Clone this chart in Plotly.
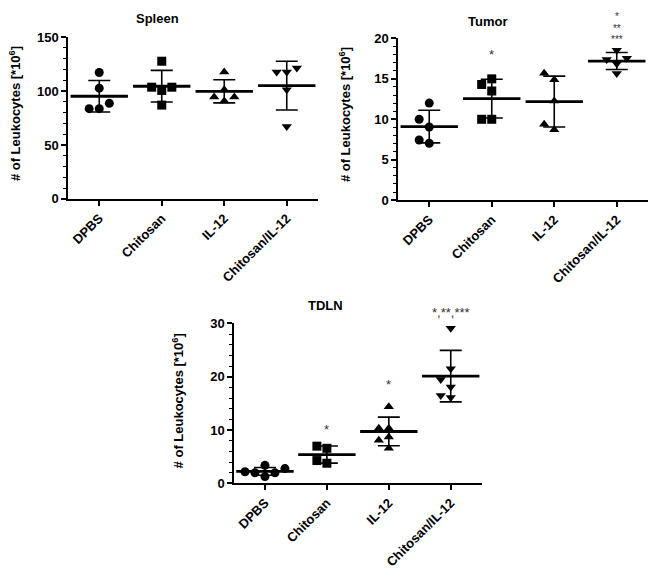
import numpy as np
import plotly.graph_objects as go

# ---------------- data ----------------
categories = ["DPBS", "Chitosan", "IL-12", "Chitosan/IL-12"]

spleen_dpbs = [117.2, 102.7, 88.6, 83.7, 83.7]
spleen_chitosan = [127.7, 103.6, 100.6, 103.6, 87.0]
spleen_il12 = [117.8, 101.2, 94.6, 94.6, 90.7]
spleen_combo = [121.4, 117.8, 117.8, 101.2, 67.2]

tumor_dpbs = [12.0, 10.0, 9.04, 7.43, 7.03]
tumor_chitosan = [15.0, 14.3, 13.5, 10.0, 10.0]
tumor_il12 = [15.7, 14.9, 12.25, 9.4, 8.7]
tumor_combo = [18.55, 17.4, 17.55, 16.87, 15.66]

tdln_dpbs = [3.4, 2.8, 2.2, 2.0, 2.0, 1.3]
tdln_chitosan = [7.0, 6.6, 4.3, 3.8]
tdln_il12 = [14.4, 10.35, 10.35, 8.7, 8.1, 6.6]
tdln_combo = [29.1, 21.5, 19.5, 18.1, 16.1, 16.5]

y_ticks_spleen = [0, 50, 100, 150]
y_ticks_tumor = [0, 5, 10, 15, 20]
y_ticks_tdln = [0, 10, 20, 30]

# significance labels: (category index, lines of text, y value of the block centre)
sig_tumor = [(1, ["*"], 18.0), (3, ["*", "**", "***"], 21.3)]
sig_tdln = [(1, ["*"], 10.2), (2, ["*"], 18.6), (3, ["*,**,***"], 32.0)]

# ---------------- styling ----------------
FONT = "Arial, Liberation Sans, sans-serif"
W, H = 654, 573
symbols = ["circle", "square", "triangle-up", "triangle-down"]
PX_PER_CAT = 62.0

panels = [
    dict(name="Spleen", groups=[spleen_dpbs, spleen_chitosan, spleen_il12, spleen_combo],
         ticks=y_ticks_spleen, minor=10, rng=[0, 150],
         xdom=[68 / W, 318 / W], ydom=[(H - 197) / H, (H - 31) / H],
         title_xy=(157, 12), ytitle_xy=(15, 110), sig=[]),
    dict(name="Tumor", groups=[tumor_dpbs, tumor_chitosan, tumor_il12, tumor_combo],
         ticks=y_ticks_tumor, minor=1, rng=[0, 20],
         xdom=[398 / W, 648 / W], ydom=[(H - 198.3) / H, (H - 32.3) / H],
         title_xy=(487, 15), ytitle_xy=(345, 110), sig=sig_tumor),
    dict(name="TDLN", groups=[tdln_dpbs, tdln_chitosan, tdln_il12, tdln_combo],
         ticks=y_ticks_tdln, minor=2, rng=[0, 30],
         xdom=[234 / W, 481.7 / W], ydom=[(H - 489.3) / H, (H - 325) / H],
         title_xy=(325, 307), ytitle_xy=(178, 405), sig=sig_tdln),
]


def swarm(vals, px_per_unit, diam=9.0, step=10.0):
    """Simple beeswarm: returns horizontal offsets in pixels."""
    order = sorted(range(len(vals)), key=lambda i: vals[i])
    placed = []
    offs = [0.0] * len(vals)
    for i in order:
        y = vals[i] * px_per_unit
        x = 0.0
        for k in [0, -1, 1, -2, 2, -3, 3]:
            x = k * step
            if all((x - px) ** 2 + (y - py) ** 2 >= diam ** 2 for px, py in placed):
                break
        placed.append((x, y))
        offs[i] = x
    return offs


fig = go.Figure()
annotations = []
layout_axes = {}

for p_i, p in enumerate(panels):
    sfx = "" if p_i == 0 else str(p_i + 1)
    xa, ya = "x" + sfx, "y" + sfx
    plot_h_px = (p["ydom"][1] - p["ydom"][0]) * H
    px_per_unit = plot_h_px / (p["rng"][1] - p["rng"][0])

    for g_i, vals in enumerate(p["groups"]):
        offs = swarm(vals, px_per_unit)
        xs = [g_i + o / PX_PER_CAT for o in offs]
        fig.add_trace(go.Scatter(
            x=xs, y=vals, mode="markers", xaxis=xa, yaxis=ya,
            marker=dict(symbol=symbols[g_i], size=9, color="black"),
            showlegend=False, cliponaxis=False))
        m = float(np.mean(vals))
        sd = float(np.std(vals, ddof=1))
        # SD whiskers
        fig.add_trace(go.Scatter(
            x=[g_i], y=[m], mode="markers", xaxis=xa, yaxis=ya,
            marker=dict(symbol="line-ew-open", size=1, color="black", line=dict(width=0)),
            error_y=dict(type="data", array=[sd], width=11, thickness=1.6, color="black"),
            showlegend=False, cliponaxis=False))
        # mean line
        fig.add_trace(go.Scatter(
            x=[g_i], y=[m], mode="markers", xaxis=xa, yaxis=ya,
            marker=dict(symbol="line-ew-open", size=41, color="black",
                        line=dict(width=2.8, color="black")),
            showlegend=False, cliponaxis=False))

    layout_axes["xaxis" + sfx] = dict(
        domain=p["xdom"], anchor=ya, range=[-0.5, 3.5],
        tickvals=list(range(len(categories))), ticktext=categories,
        tickangle=-45, ticks="outside", ticklen=5, tickwidth=1.5, tickcolor="black",
        showline=True, linecolor="black", linewidth=1.5, showgrid=False, zeroline=False,
        tickfont=dict(family=FONT, size=13, color="black", weight="bold"))
    layout_axes["yaxis" + sfx] = dict(
        domain=p["ydom"], anchor=xa, range=p["rng"],
        tickvals=p["ticks"], ticks="outside", ticklen=5, tickwidth=1.5, tickcolor="black",
        minor=dict(ticks="outside", dtick=p["minor"], ticklen=3, tickwidth=1, tickcolor="black"),
        showline=True, linecolor="black", linewidth=1.5, showgrid=False, zeroline=False,
        tickfont=dict(family=FONT, size=13, color="black", weight="bold"))

    tx, ty = p["title_xy"]
    annotations.append(dict(
        text="<b>%s</b>" % p["name"], x=tx / W, y=1 - ty / H, xref="paper", yref="paper",
        showarrow=False, xanchor="center", yanchor="middle",
        font=dict(family=FONT, size=13, color="black")))
    yx, yy = p["ytitle_xy"]
    annotations.append(dict(
        text="<b># of Leukocytes [*10<sup>6</sup>]</b>", x=yx / W, y=1 - yy / H,
        xref="paper", yref="paper", textangle=-90, showarrow=False,
        xanchor="center", yanchor="middle",
        font=dict(family=FONT, size=13, color="black")))
    # significance labels (may lie above the axis range -> place in paper coords)
    x0, x1 = p["xdom"]
    y0, y1 = p["ydom"]
    for cat_i, lines, yv in p["sig"]:
        xp = x0 + (cat_i + 0.5) / 4.0 * (x1 - x0)
        yp = y0 + (yv - p["rng"][0]) / (p["rng"][1] - p["rng"][0]) * (y1 - y0)
        if len(lines) > 1:
            # tight stacked block: base font sets line spacing, spans set glyph size
            txt = "<br>".join("<span style='font-size:10px'>%s</span>" % ln for ln in lines)
            fsize = 9
        else:
            txt = lines[0]
            fsize = 13
        annotations.append(dict(
            text=txt, x=xp, y=yp, xref="paper", yref="paper", showarrow=False,
            xanchor="center", yanchor="middle",
            font=dict(family=FONT, size=fsize, color="#333333")))

fig.update_layout(
    width=W, height=H, margin=dict(l=0, r=0, t=0, b=0),
    paper_bgcolor="white", plot_bgcolor="white",
    annotations=annotations, **layout_axes)

fig.write_html("out.html", config={"displayModeBar": False})

# remove the default page margin so the figure fills the window exactly
with open("out.html", "r", encoding="utf-8") as f:
    html = f.read()
html = html.replace("<head>", "<head><style>html,body{margin:0;padding:0;overflow:hidden;}</style>", 1)
with open("out.html", "w", encoding="utf-8") as f:
    f.write(html)
